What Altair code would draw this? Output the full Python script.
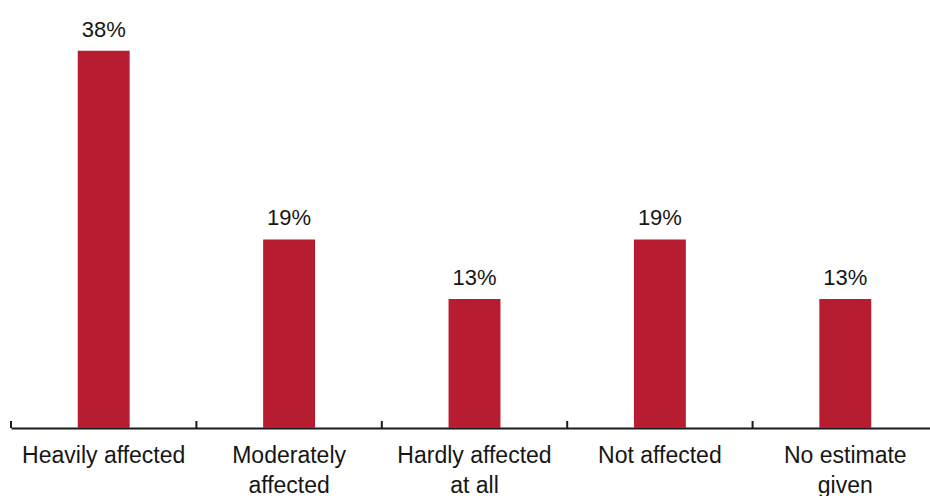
import altair as alt
import pandas as pd

# Survey shares by impact category
categories = [
    "Heavily affected",
    "Moderately affected",
    "Hardly affected at all",
    "Not affected",
    "No estimate given",
]
shares = [38, 19, 13, 19, 13]
label_lines = [
    ["Heavily affected"],
    ["Moderately", "affected"],
    ["Hardly affected", "at all"],
    ["Not affected"],
    ["No estimate", "given"],
]

df = pd.DataFrame({"category": categories, "share": shares})
df["label"] = df["share"].astype(str) + "%"

BAR = "#b81c31"
INK = "#161616"
FONT = "Liberation Sans"

W, H = 919, 397

# Build a label expression that breaks long category names over two lines
expr = "''"
for cat, lines in reversed(list(zip(categories, label_lines))):
    arr = "[" + ", ".join("'" + s + "'" for s in lines) + "]"
    expr = f"datum.value == '{cat}' ? {arr} : ({expr})"

x_enc = alt.X(
    "category:N",
    sort=categories,
    title=None,
    scale=alt.Scale(range=[0, 927], paddingInner=0, paddingOuter=0),
    axis=alt.Axis(
        labelExpr=expr,
        labelAngle=0,
        labelFont=FONT,
        labelFontSize=23,
        labelColor=INK,
        labelLineHeight=30,
        labelPadding=16,
        labelBaseline="top",
        ticks=False,
        tickSize=0,
        domainColor="#1a1a1a",
        domainWidth=2,
        grid=False,
    ),
)

y_enc = alt.Y(
    "share:Q",
    scale=alt.Scale(domain=[0, 40], nice=False),
    axis=None,
)

base = alt.Chart(df)

bars = base.mark_bar(color=BAR, width=alt.RelativeBandSize(0.28)).encode(
    x=x_enc, y=y_enc
)

values = base.mark_text(
    font=FONT, fontSize=22, color=INK, baseline="alphabetic", dy=-14
).encode(x=alt.X("category:N", sort=categories), y="share:Q", text="label:N")

# Short upward ticks at the band boundaries
ticks = base.mark_rule(color="#1a1a1a", strokeWidth=2).encode(
    x=alt.X("category:N", sort=categories, bandPosition=0),
    y=alt.value(H),
    y2=alt.value(H - 7),
)

chart = (
    alt.layer(bars, ticks, values)
    .properties(
        width=W,
        height=H,
        background="white",
        autosize=alt.AutoSizeParams(type="none"),
        padding={"left": 11, "top": 31, "right": 0, "bottom": 68},
    )
    .configure_view(strokeWidth=0, stroke="transparent")
)

chart.save("out.html", embed_options={"renderer": "svg", "actions": False})
